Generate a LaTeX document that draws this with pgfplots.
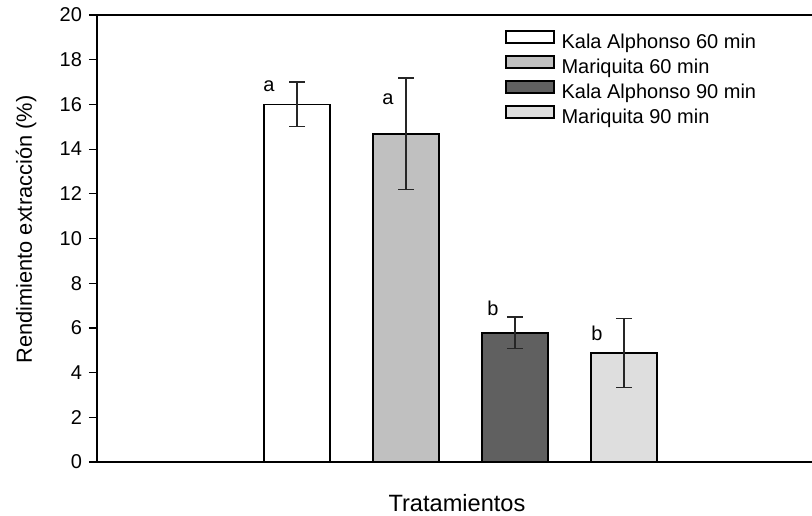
\documentclass[border=0pt]{standalone}
\usepackage{fontspec}
\setmainfont{Liberation Sans}
\usepackage{pgfplots}
\pgfplotsset{compat=1.18}
\definecolor{cA}{RGB}{255,255,255}
\definecolor{cB}{RGB}{192,192,192}
\definecolor{cC}{RGB}{96,96,96}
\definecolor{cD}{RGB}{222,222,222}
\begin{document}
\begin{tikzpicture}
\begin{axis}[
  scale only axis,
  width=357.5pt, height=223.5pt,
  xmin=-0.835, xmax=5.725, ymin=0, ymax=20,
  separate axis lines,
  axis x line=box, axis y line=left,
  axis line style={-, line width=0.8pt},
  x axis line style={-}, y axis line style={-},
  xtick=\empty,
  ytick={0,2,...,20},
  tick align=outside,
  major tick length=4pt,
  tick style={line width=0.6pt, black},
  /pgf/number format/assume math mode=true,
  tick label style={font=\fontsize{10}{12}\selectfont},
  every axis y label/.style={at={(axis description cs:-0.099,0.52)}, rotate=90, anchor=center, font=\fontsize{10.9}{13}\selectfont},
  every axis x label/.style={at={(axis description cs:0.5035,-0.092)}, anchor=center, font=\fontsize{11.8}{14}\selectfont},
  ylabel={Rendimiento extracción (\%)},
  xlabel={Tratamientos},
  legend style={draw=none, fill=none, at={(rel axis cs:0.5706,0.9664)}, anchor=north west, inner sep=0pt, outer sep=0pt, row sep=0pt,
    nodes={inner sep=0pt, text height=7.5pt, text depth=3.5pt, anchor=west, font=\fontsize{10}{12}\selectfont}},
  legend cell align=left,
  legend image code/.code={\draw[#1, line width=0.8pt] (0pt,0.6pt) rectangle (24pt,6.6pt); \path (27.5pt,0pt);},
  bar width=32.75pt,
  error bars/error bar style={line width=0.6pt, black!85},
  error bars/error mark options={rotate=90, mark size=4pt, line width=0.6pt, black!85},
]
\addplot[ybar, bar shift=0pt, draw=black, line width=0.8pt, fill=cA,
  error bars/.cd, y dir=both, y explicit]
  coordinates {(1,16.0) +- (0,1.0)};
\addlegendentry{Kala Alphonso 60 min}
\addplot[ybar, bar shift=0pt, draw=black, line width=0.8pt, fill=cB,
  error bars/.cd, y dir=both, y explicit]
  coordinates {(2,14.68) +- (0,2.5)};
\addlegendentry{Mariquita 60 min}
\addplot[ybar, bar shift=0pt, draw=black, line width=0.8pt, fill=cC,
  error bars/.cd, y dir=both, y explicit]
  coordinates {(3,5.78) +- (0,0.71)};
\addlegendentry{Kala Alphonso 90 min}
\addplot[ybar, bar shift=0pt, draw=black, line width=0.8pt, fill=cD,
  error bars/.cd, y dir=both, y explicit]
  coordinates {(4,4.88) +- (0,1.53)};
\addlegendentry{Mariquita 90 min}
\node[inner sep=0pt, anchor=center, font=\fontsize{10}{12}\selectfont] at (axis cs:0.743,16.82) {a};
\node[inner sep=0pt, anchor=center, font=\fontsize{10}{12}\selectfont] at (axis cs:1.835,16.24) {a};
\node[inner sep=0pt, anchor=center, font=\fontsize{10}{12}\selectfont] at (axis cs:2.798,6.89) {b};
\node[inner sep=0pt, anchor=center, font=\fontsize{10}{12}\selectfont] at (axis cs:3.752,5.77) {b};
\end{axis}
\pgfresetboundingbox
\useasboundingbox (-48.5pt,-26.5pt) rectangle (357.5pt,231pt);
\end{tikzpicture}
\end{document}
